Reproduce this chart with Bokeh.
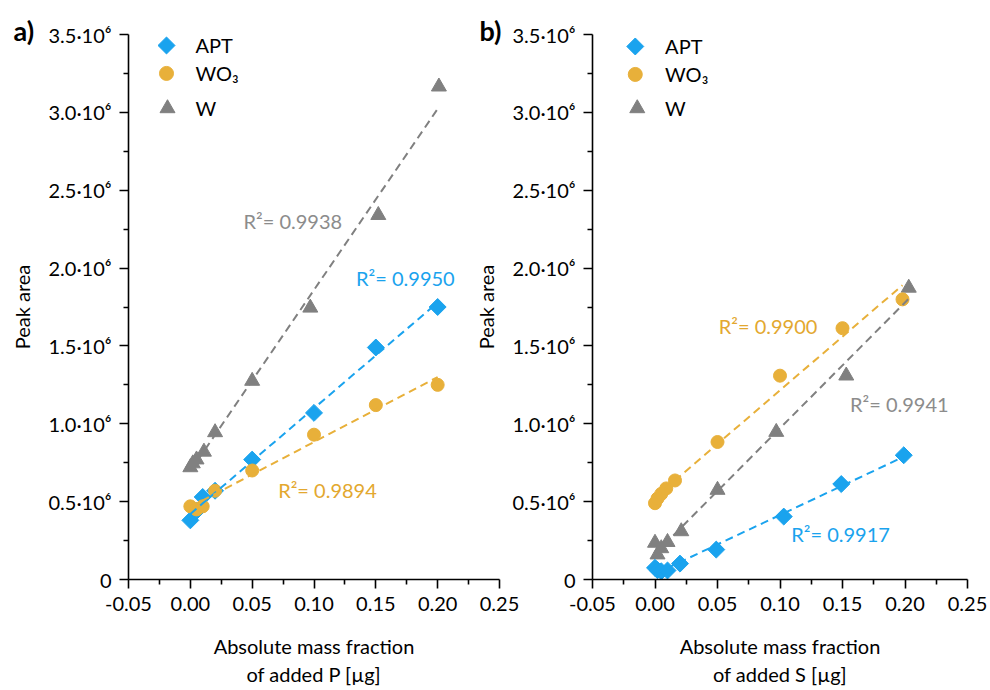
import numpy as np
from bokeh.plotting import figure
from bokeh.layouts import row
from bokeh.models import FixedTicker, CustomJSTickFormatter, Label, Range1d, Title
from bokeh.embed import file_html
from bokeh.resources import INLINE

# ---------------- data ----------------
# panel a: added P
a_apt_x = [0.0, 0.005, 0.01, 0.02, 0.05, 0.10, 0.15, 0.20]
a_apt_y = [0.38e6, 0.44e6, 0.53e6, 0.57e6, 0.77e6, 1.07e6, 1.49e6, 1.75e6]
a_wo3_x = [0.0, 0.005, 0.01, 0.02, 0.05, 0.10, 0.15, 0.20]
a_wo3_y = [0.47e6, 0.45e6, 0.47e6, 0.57e6, 0.70e6, 0.93e6, 1.12e6, 1.25e6]
a_w_x = [0.0, 0.002, 0.005, 0.011, 0.02, 0.05, 0.097, 0.152, 0.201]
a_w_y = [0.72e6, 0.745e6, 0.77e6, 0.82e6, 0.945e6, 1.275e6, 1.745e6, 2.34e6, 3.165e6]

# panel b: added S
b_apt_x = [0.0, 0.002, 0.005, 0.01, 0.02, 0.049, 0.103, 0.149, 0.199]
b_apt_y = [0.075e6, 0.06e6, 0.053e6, 0.058e6, 0.102e6, 0.192e6, 0.404e6, 0.613e6, 0.798e6]
b_wo3_x = [0.0, 0.002, 0.005, 0.009, 0.016, 0.05, 0.10, 0.15, 0.198]
b_wo3_y = [0.49e6, 0.52e6, 0.55e6, 0.585e6, 0.636e6, 0.883e6, 1.309e6, 1.614e6, 1.799e6]
b_w_x = [0.0, 0.002, 0.005, 0.01, 0.021, 0.05, 0.097, 0.153, 0.203]
b_w_y = [0.235e6, 0.16e6, 0.20e6, 0.24e6, 0.309e6, 0.575e6, 0.947e6, 1.309e6, 1.873e6]

series_names = ["APT", "WO₃", "W"]
a_r2 = ["R²= 0.9950", "R²= 0.9894", "R²= 0.9938"]
b_r2 = ["R²= 0.9917", "R²= 0.9900", "R²= 0.9941"]
# R² label anchor (left, middle) in data units
a_r2_pos = [(0.134, 1.935e6), (0.071, 0.575e6), (0.043, 2.30e6)]
b_r2_pos = [(0.109, 0.294e6), (0.051, 1.628e6), (0.156, 1.13e6)]

x_ticks = [-0.05, 0.0, 0.05, 0.10, 0.15, 0.20, 0.25]
x_minor = [-0.025, 0.025, 0.075, 0.125, 0.175, 0.225]
y_ticks = [0, 0.5e6, 1.0e6, 1.5e6, 2.0e6, 2.5e6, 3.0e6, 3.5e6]
y_minor = [0.25e6, 0.75e6, 1.25e6, 1.75e6, 2.25e6, 2.75e6, 3.25e6]

x_labels = ["Absolute mass fraction\nof added P [µg]", "Absolute mass fraction\nof added S [µg]"]
panel_tags = ["a)", "b)"]

# legend layout: pixel offsets from the frame's top-left corner
a_leg_layout = dict(mx=[38, 38, 39], my=[11, 39, 74], tx=67)
b_leg_layout = dict(mx=[43, 43, 45], my=[12, 40, 74], tx=73)

BLUE = "#1AA3EE"
ORANGE = "#E8B03A"
GRAY = "#808080"
R2_COLORS = [BLUE, "#E3A82F", "#8C8C8C"]
FONT = "Lato"

FRAME_H = 546
XR = (-0.05, 0.25)
YR = (0.0, 3.5e6)


def make_panel(series, r2_texts, r2_pos, xlabel, tag, tag_offset, leg, width, mb_left,
               mb_right, transparent):
    frame_w = width - mb_left - mb_right
    p = figure(width=width, height=689, output_backend="svg", toolbar_location=None,
               x_range=Range1d(*XR), y_range=Range1d(*YR),
               min_border_left=mb_left, min_border_right=mb_right,
               min_border_top=34, min_border_bottom=109)
    p.outline_line_color = None
    p.grid.visible = False
    if transparent:
        p.border_fill_color = None
        p.background_fill_color = None

    xa = p.xaxis[0]
    ya = p.yaxis[0]
    xa.ticker = FixedTicker(ticks=x_ticks, minor_ticks=x_minor)
    ya.ticker = FixedTicker(ticks=y_ticks, minor_ticks=y_minor)
    xa.formatter = CustomJSTickFormatter(code="return tick.toFixed(2);")
    ya.formatter = CustomJSTickFormatter(
        code="if (Math.abs(tick) < 1) return '0'; return (tick/1e6).toFixed(1) + '·10⁶';")
    for ax in (xa, ya):
        ax.axis_line_width = 1.6
        ax.axis_line_color = "black"
        ax.major_tick_line_width = 1.6
        ax.minor_tick_line_width = 1.6
        ax.major_tick_line_color = "black"
        ax.minor_tick_line_color = "black"
        ax.major_tick_out = 9
        ax.major_tick_in = 0
        ax.minor_tick_out = 5
        ax.minor_tick_in = 0
        ax.major_label_text_font = FONT
        ax.major_label_text_font_size = "20px"
        ax.major_label_text_color = "black"
        ax.major_label_standoff = 8
        ax.axis_label_text_font = FONT
        ax.axis_label_text_font_size = "20px"
        ax.axis_label_text_font_style = "normal"
        ax.axis_label_text_color = "black"
    xa.axis_label = xlabel
    xa.axis_label_standoff = 20
    ya.axis_label = "Peak area"
    ya.axis_label_standoff = 12

    colors = [BLUE, ORANGE, GRAY]
    markers = ["square", "circle", "triangle"]
    sizes = [12, 13, 15]
    angles = [np.pi / 4, 0, 0]
    order = [2, 0, 1]  # W, APT, WO3 drawn in this order
    for i in order:
        xs, ys = series[i]
        p.scatter(xs, ys, marker=markers[i], size=sizes[i], angle=angles[i],
                  fill_color=colors[i], line_color=colors[i], line_width=1)
    for i in order:
        xs, ys = series[i]
        k, b = np.polyfit(xs, ys, 1)
        x0, x1 = min(xs), max(xs)
        p.line([x0, x1], [k * x0 + b, k * x1 + b], line_color=colors[i],
               line_width=2, line_dash="8 5")

    for i in range(3):
        p.add_layout(Label(x=r2_pos[i][0], y=r2_pos[i][1], text=r2_texts[i],
                           text_font=FONT, text_font_size="20px", text_color=R2_COLORS[i],
                           text_baseline="middle", text_align="left"))

    # legend (manual, so the diamond can be a rotated square)
    def to_x(px):
        return XR[0] + px / frame_w * (XR[1] - XR[0])

    def to_y(py):
        return YR[1] - py / FRAME_H * (YR[1] - YR[0])

    leg_sizes = [12, 14, 15]
    for i in range(3):
        p.scatter([to_x(leg["mx"][i])], [to_y(leg["my"][i])], marker=markers[i],
                  size=leg_sizes[i], angle=angles[i], fill_color=colors[i],
                  line_color=colors[i], line_width=1)
        p.add_layout(Label(x=to_x(leg["tx"]), y=to_y(leg["my"][i]), text=series_names[i],
                           text_font=FONT, text_font_size="20px", text_color="black",
                           text_baseline="middle", text_align="left"))

    p.add_layout(Title(text=tag, align="left", vertical_align="bottom", offset=tag_offset,
                       standoff=-24, text_font=FONT, text_font_size="27px",
                       text_font_style="bold", text_color="black"), "above")
    return p


pa = make_panel([(a_apt_x, a_apt_y), (a_wo3_x, a_wo3_y), (a_w_x, a_w_y)],
                a_r2, a_r2_pos, x_labels[0], panel_tags[0], -115, a_leg_layout,
                528, 128, 29, False)
pb = make_panel([(b_apt_x, b_apt_y), (b_wo3_x, b_wo3_y), (b_w_x, b_w_y)],
                b_r2, b_r2_pos, x_labels[1], panel_tags[1], -113, b_leg_layout,
                519, 120, 22, True)
pb.margin = (0, 0, 0, -58)

layout = row(pa, pb)
open("out.html", "w").write(file_html(layout, INLINE))
